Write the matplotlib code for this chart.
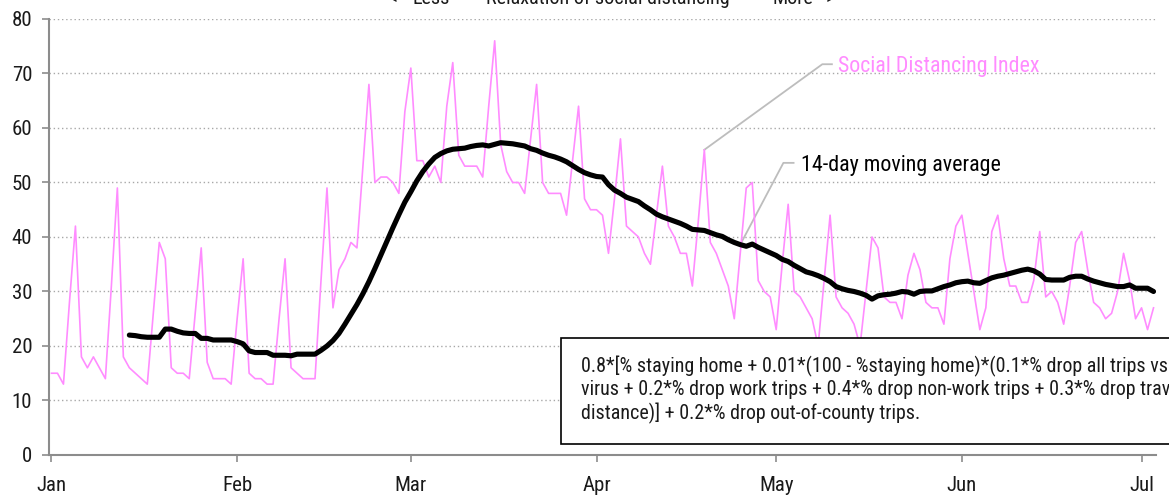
import matplotlib
matplotlib.use("Agg")
import matplotlib.pyplot as plt
import matplotlib.dates as mdates
from matplotlib import font_manager as fm
from matplotlib.patches import Rectangle
import pandas as pd

# Daily Social Distancing Index, starting 2020-01-01
start_date = "2020-01-01"
sdi = [15, 15, 13, 28, 42, 18, 16, 18, 16, 14, 31, 49, 18, 16, 15, 14, 13, 26, 39, 36,
       16, 15, 15, 14, 26, 38, 17, 14, 14, 14, 13, 25, 36, 15, 14, 14, 13, 13, 25, 36,
       16, 15, 14, 14, 14, 32, 49, 27, 34, 36, 39, 38, 53, 68, 50, 51, 51, 50, 48, 63,
       71, 54, 54, 51, 53, 50, 64, 72, 55, 53, 53, 53, 51, 64, 76, 57, 52, 50, 50, 48,
       58, 68, 50, 48, 48, 48, 44, 54, 64, 47, 45, 45, 44, 37, 47, 58, 42, 41, 40, 37,
       35, 44, 53, 42, 40, 37, 37, 31, 43, 56, 39, 37, 34, 31, 25, 37, 49, 50, 32, 30,
       29, 23, 35, 46, 30, 29, 27, 25, 20, 32, 44, 29, 27, 26, 24, 20, 30, 40, 38, 29,
       28, 28, 25, 33, 37, 34, 28, 27, 27, 24, 36, 42, 44, 37, 30, 23, 27, 41, 44, 36,
       31, 31, 28, 28, 32, 41, 29, 30, 28, 24, 31, 39, 41, 34, 28, 27, 25, 26, 30, 37,
       32, 25, 27, 23, 27]

# 14-day moving average as drawn, first value on day 13
ma_first_day = 13
ma14 = [22.0, 21.9, 21.7, 21.6, 21.6, 21.6, 23.1, 23.1, 22.7, 22.4, 22.3, 22.3, 21.4, 21.4,
        21.1, 21.1, 21.1, 21.1, 20.8, 20.4, 19.1, 18.8, 18.8, 18.8, 18.3, 18.3, 18.3, 18.2,
        18.5, 18.5, 18.5, 18.5, 19.2, 20.0, 21.0, 22.3, 24.0, 25.8, 27.6, 29.6, 31.8, 34.2,
        36.7, 39.2, 41.7, 44.1, 46.4, 48.3, 50.3, 52.0, 53.4, 54.6, 55.3, 55.8, 56.1, 56.2,
        56.3, 56.6, 56.8, 56.9, 56.7, 57.0, 57.3, 57.2, 57.1, 56.9, 56.7, 56.2, 55.9, 55.4,
        55.0, 54.7, 54.3, 53.8, 53.1, 52.4, 51.8, 51.4, 51.1, 51.0, 49.6, 48.6, 48.0, 47.3,
        46.9, 46.5, 45.7, 45.0, 44.2, 43.7, 43.3, 42.9, 42.5, 42.0, 41.4, 41.3, 41.2, 40.8,
        40.4, 40.1, 39.5, 39.0, 38.6, 38.3, 38.7, 38.1, 37.6, 37.1, 36.6, 35.9, 35.5, 34.8,
        34.2, 33.6, 33.3, 32.9, 32.4, 31.8, 30.9, 30.5, 30.2, 30.0, 29.7, 29.3, 28.6, 29.2,
        29.4, 29.5, 29.7, 30.0, 29.9, 29.5, 30.0, 30.1, 30.1, 30.5, 30.9, 31.2, 31.6, 31.8,
        31.9, 31.6, 31.5, 32.0, 32.5, 32.8, 33.0, 33.3, 33.6, 33.9, 34.1, 33.8, 33.2, 32.2,
        32.1, 32.1, 32.1, 32.6, 32.8, 32.8, 32.3, 31.9, 31.6, 31.3, 31.1, 30.9, 30.9, 31.2,
        30.6, 30.6, 30.6, 30.0]

y_ticks = [0, 10, 20, 30, 40, 50, 60, 70, 80]
sdi_label = "Social Distancing Index"
ma_label = "14-day moving average"
top_labels = ["<", "Less", "Relaxation of social distancing", "More", ">"]
formula = ("0.8*[% staying home + 0.01*(100 - %staying home)*(0.1*% drop all trips vs pre-\n"
           "virus + 0.2*% drop work trips + 0.4*% drop non-work trips + 0.3*% drop travel\n"
           "distance)] + 0.2*% drop out-of-county trips.")

PINK = "#FF8CFF"
GREY = "#BDBDBD"

# pick a condensed face if one is around
names = {f.name for f in fm.fontManager.ttflist}
font = "DejaVu Sans"
for cand in ["Roboto Condensed", "Fira Sans Condensed", "Archivo Narrow",
             "PT Sans Narrow", "Pragati Narrow", "Liberation Sans Narrow"]:
    if cand in names:
        font = cand
        break
plt.rcParams["font.family"] = [font, "DejaVu Sans"]

dates = pd.date_range(start_date, periods=len(sdi), freq="D")
ma_dates = dates[ma_first_day:ma_first_day + len(ma14)]

fig = plt.figure(figsize=(11.69, 4.96), dpi=100)
ax = fig.add_axes([0.0419, 0.0827, 0.947, 0.879])

ax.plot(dates, sdi, color=PINK, lw=1.2, zorder=3)
ax.plot(ma_dates, ma14, color="black", lw=3.7, solid_capstyle="round",
        solid_joinstyle="round", zorder=4)

ax.set_ylim(0, 80)
ax.set_yticks(y_ticks)
ax.set_xlim(dates[0] - pd.Timedelta(hours=10), dates[-1] + pd.Timedelta(hours=10))
ax.xaxis.set_major_locator(mdates.MonthLocator())
ax.xaxis.set_major_formatter(mdates.DateFormatter("%b"))

ax.yaxis.grid(True, linestyle=(0, (1, 2)), color="#A8A8A8", lw=1.0)
ax.set_axisbelow(True)
for s in ["top", "right"]:
    ax.spines[s].set_visible(False)
for s in ["left", "bottom"]:
    ax.spines[s].set_color("#8C8C8C")
    ax.spines[s].set_linewidth(1.5)
ax.tick_params(axis="y", colors="#8C8C8C", length=5, width=1.2, pad=7,
               labelsize=15, labelcolor="#1A1A1A")
ax.tick_params(axis="x", colors="#8C8C8C", length=5, width=1.2, pad=10,
               labelsize=15, labelcolor="#1A1A1A")

# leader line + label for the daily index
i_pk = 109
p0 = (mdates.date2num(dates[i_pk]), sdi[i_pk])
elbow = (p0[0] + 19.7, 71.7)
ax.plot([p0[0], elbow[0], elbow[0] + 1.6], [p0[1], elbow[1], elbow[1]],
        color=GREY, lw=1.3, zorder=2)
ax.text(elbow[0] + 2.7, elbow[1] - 0.4, sdi_label, color=PINK, fontsize=15.8,
        ha="left", va="center", zorder=6)

# leader line + label for the moving average
i_ma = 115
q0 = (mdates.date2num(dates[i_ma]), ma14[i_ma - ma_first_day])
elbow2 = (q0[0] + 7.2, 53.6)
ax.plot([q0[0], elbow2[0], elbow2[0] + 1.7], [q0[1], elbow2[1], elbow2[1]],
        color=GREY, lw=1.3, zorder=2)
ax.text(elbow2[0] + 2.9, elbow2[1] - 0.5, ma_label, color="black", fontsize=15.8,
        ha="left", va="center", zorder=6)

# formula box (runs past the right edge like the original)
box = Rectangle((0.4625, 0.0245), 0.70, 0.2432, transform=ax.transAxes,
                facecolor="white", edgecolor="black", lw=1.2, zorder=7, clip_on=False)
ax.add_patch(box)
ax.text(0.4806, 0.1495, formula, transform=ax.transAxes, ha="left", va="center",
        fontsize=14.4, linespacing=1.23, color="#1A1A1A", zorder=8, clip_on=False)

# heading strip, mostly cut off at the top edge
top_x = [388, 412, 486, 772, 826]
for lab, px in zip(top_labels, top_x):
    fig.text(px / 1169, 1 - 4.5 / 496, lab, ha="left", va="baseline", fontsize=14.5,
             color="#1A1A1A")

fig.savefig("out.png", dpi=100)
